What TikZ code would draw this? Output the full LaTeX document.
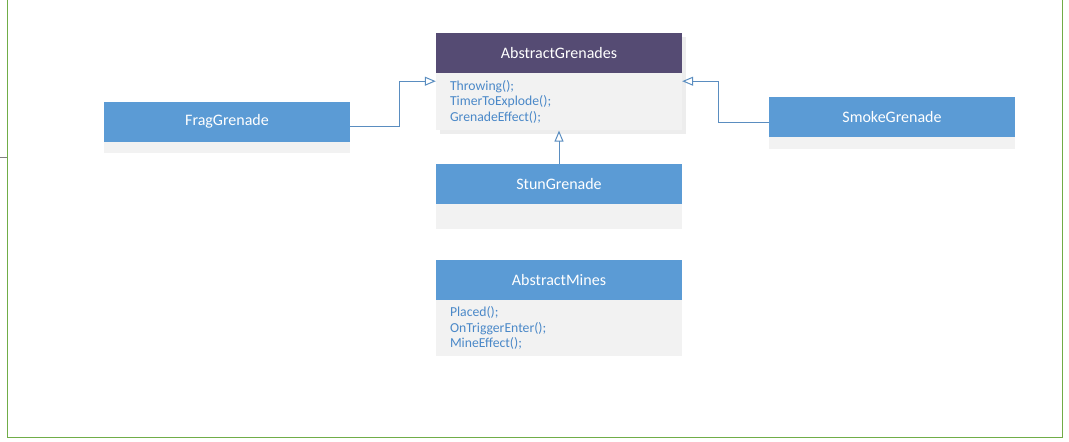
\documentclass[tikz,border=0pt]{standalone}
\usepackage{fontspec}
\setmainfont{Carlito}
\usetikzlibrary{positioning,arrows.meta}
\begin{document}
\begin{tikzpicture}[x=1pt,y=-1pt,
  classhead/.style={rectangle,fill=headblue,text=white,minimum width=246pt,minimum height=40pt,inner sep=0pt,font=\fontsize{16}{19}\selectfont},
  classbody/.style={rectangle,fill=bodygray,text=methodblue,minimum width=246pt,text width=218pt,inner xsep=14pt,inner ysep=0pt,align=left,font=\fontsize{13.7}{15.5}\selectfont},
  inherit/.style={draw=linkblue,line width=1pt,-{Triangle[open,length=11pt,width=9pt]}}]
\definecolor{headblue}{HTML}{5B9BD5}
\definecolor{headpurple}{HTML}{554B73}
\definecolor{bodygray}{HTML}{F2F2F2}
\definecolor{methodblue}{HTML}{4A88C8}
\definecolor{linkblue}{HTML}{5A8DC0}
\definecolor{framegreen}{HTML}{70AD47}
\useasboundingbox (0,0) rectangle (1069,442);
\draw[framegreen,line width=1pt] (7,0) -- (7,437) -- (1062,437) -- (1062,0);
\draw[gray] (0,157) -- (7,157);
\fill[black!7] (440,37) rectangle (686,134);
\node[classhead,fill=headpurple] (grenades) at (559,53) {AbstractGrenades};
\node[classbody,minimum height=57pt,below=0pt of grenades] (grenadesbody) {Throwing();\\TimerToExplode();\\GrenadeEffect();};
  \foreach \nm/\txt/\x/\y/\h in {frag/FragGrenade/227/121.5/11,smoke/SmokeGrenade/892/117/12,stun/StunGrenade/559/184/25}
  {  \node[classhead] (\nm) at (\x,\y) {\txt};
     \node[classbody,minimum height=\h pt,below=0pt of \nm] (\nm body) {};}
\node[classhead] (mines) at (559,280) {AbstractMines};
\node[classbody,minimum height=56pt,below=0pt of mines] (minesbody) {Placed();\\OnTriggerEnter();\\MineEffect();};
\draw[inherit] ([yshift=-5pt]frag.east) -- ++(49,0) |- ([yshift=-8pt]grenadesbody.north west);
\draw[inherit] ([yshift=-5.5pt]smoke.west) -- ++(-50,0) |- ([yshift=-8pt]grenadesbody.north east);
\draw[inherit] (stun.north) -- (grenadesbody.south);
\end{tikzpicture}
\end{document}
